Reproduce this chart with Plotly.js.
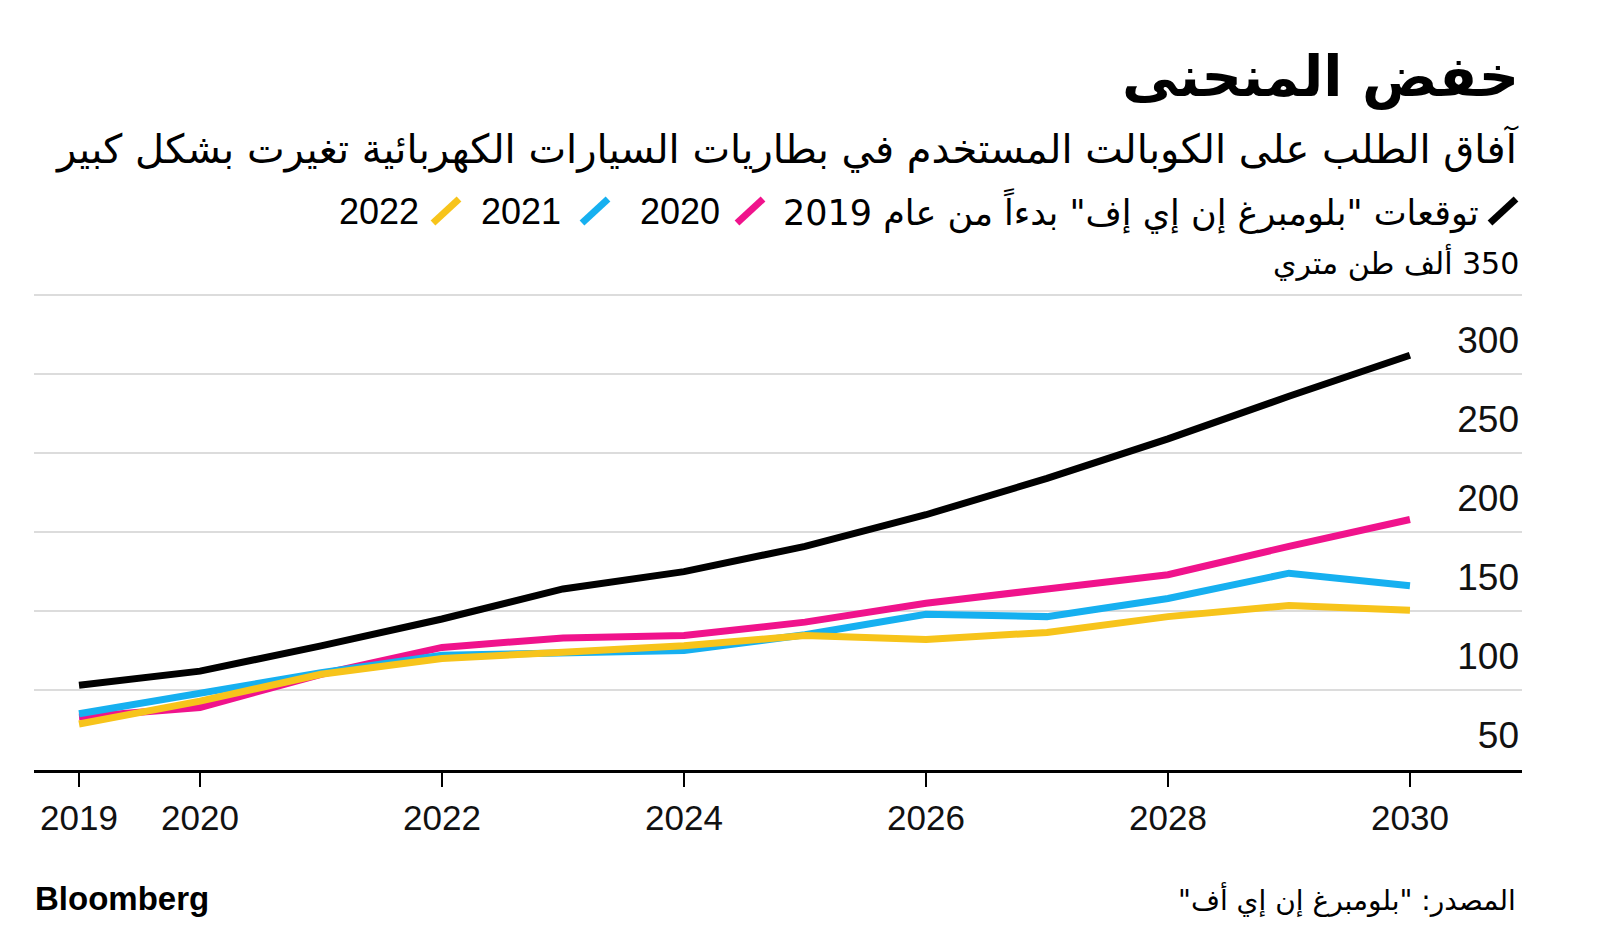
<!DOCTYPE html>
<html>
<head>
<meta charset="utf-8">
<script src="https://cdn.plot.ly/plotly-3.0.1.min.js"></script>
<style>
  html, body { margin: 0; padding: 0; background: #ffffff; }
  #chart { width: 1600px; height: 934px; }
</style>
</head>
<body>
<div id="chart"></div>
<script>
// ---- data ----
const years = [2019, 2020, 2021, 2022, 2023, 2024, 2025, 2026, 2027, 2028, 2029, 2030];
const forecast2019 = [103, 112, 128, 145, 164, 175, 191, 211, 234, 259, 286, 312];
const forecast2020 = [83, 89, 110, 127, 133, 134.5, 143, 155, 164, 173, 191, 208];
const forecast2021 = [85, 98, 111, 122, 123, 125, 135, 148, 146.5, 158, 174, 166];
const forecast2022 = [78.5, 93, 110, 120, 124, 128, 134.5, 132, 136.5, 146.5, 153.5, 150.5];

const seriesNames = ['توقعات "بلومبرغ إن إي إف" بدءاً من عام 2019', '2020', '2021', '2022'];
const seriesColors = ['#000000', '#f0138c', '#16b0f0', '#f7c41b'];

const xTickVals = [2019, 2020, 2022, 2024, 2026, 2028, 2030];
const yTickVals = [50, 100, 150, 200, 250, 300, 350];
const yTickText = ['50', '100', '150', '200', '250', '300', ''];

const titleText = 'خفض المنحنى';
const subtitleText = 'آفاق الطلب على الكوبالت المستخدم في بطاريات السيارات الكهربائية تغيرت بشكل كبير';
const unitText = '\u200F350 ألف طن متري';
const sourceText = 'المصدر: "بلومبرغ إن إي أف"\u200F';
const brandText = 'Bloomberg';

// ---- layout helpers (pixel -> paper) ----
const W = 1600, H = 934;
const M = { l: 34, r: 78, t: 292, b: 164 };
const PW = W - M.l - M.r, PH = H - M.t - M.b;
const px = x => (x - M.l) / PW;
const py = y => (H - M.b - y) / PH;

const FONT = 'Liberation Sans, Arial, DejaVu Sans, sans-serif';
const AFONT = 'DejaVu Sans, Liberation Sans, sans-serif';

const allSeries = [forecast2019, forecast2020, forecast2021, forecast2022];
const order = [1, 2, 3, 0]; // draw pink, blue, yellow, then black
const traces = order.map(i => ({
  x: years,
  y: allSeries[i],
  type: 'scatter',
  mode: 'lines',
  name: seriesNames[i],
  line: { color: seriesColors[i], width: 7 },
  cliponaxis: false,
  hoverinfo: 'skip'
}));

// legend built by hand (RTL: swatch to the right of text)
const legendItems = [
  { i: 0, slashX: 1503, textRight: 1481 },
  { i: 1, slashX: 750,  textRight: 722 },
  { i: 2, slashX: 595,  textRight: 563 },
  { i: 3, slashX: 446,  textRight: 421 }
];
const legendY = 211;

const shapes = legendItems.map(it => ({
  type: 'line', xref: 'paper', yref: 'paper',
  x0: px(it.slashX - 13), y0: py(legendY + 12),
  x1: px(it.slashX + 13), y1: py(legendY - 12),
  line: { color: seriesColors[it.i], width: 7 }
}));

const annotations = [
  { text: '<b>' + titleText + '</b>', x: px(1521), y: py(77), xanchor: 'right', yanchor: 'middle',
    font: { family: AFONT, size: 56, color: '#000' } },
  { text: subtitleText, x: px(1521), y: py(149), xanchor: 'right', yanchor: 'middle',
    font: { family: AFONT, size: 40, color: '#000' } },
  { text: unitText, x: px(1521), y: py(262), xanchor: 'right', yanchor: 'middle',
    font: { family: AFONT, size: 30, color: '#000' } },
  { text: sourceText, x: px(1518), y: py(899), xanchor: 'right', yanchor: 'middle',
    font: { family: AFONT, size: 28, color: '#000' } },
  { text: '<b>' + brandText + '</b>', x: px(33), y: py(898), xanchor: 'left', yanchor: 'middle',
    font: { family: FONT, size: 33, color: '#000' } }
].concat(legendItems.map(it => ({
  text: seriesNames[it.i],
  x: px(it.textRight), y: py(legendY), xanchor: 'right', yanchor: 'middle',
  font: { family: it.i === 0 ? AFONT : FONT, size: it.i === 0 ? 35 : 36, color: '#000' }
}))).map(a => Object.assign({ xref: 'paper', yref: 'paper', showarrow: false }, a));

const layout = {
  width: W, height: H,
  margin: M,
  paper_bgcolor: '#ffffff', plot_bgcolor: '#ffffff',
  showlegend: false,
  hovermode: false,
  xaxis: {
    range: [2018.628, 2030.926],
    tickvals: xTickVals,
    ticktext: xTickVals.map(String),
    ticks: 'outside', ticklen: 14, tickwidth: 1.5, tickcolor: '#000',
    showline: true, linecolor: '#000', linewidth: 3,
    showgrid: false, zeroline: false,
    tickfont: { family: FONT, size: 35, color: '#111' },
    ticklabelstandoff: 1,
    fixedrange: true
  },
  yaxis: {
    range: [49.4, 352],
    side: 'right',
    tickvals: yTickVals,
    ticktext: yTickText,
    ticklabelposition: 'inside top',
    ticklabelshift: -8,
    ticks: '',
    showline: false, zeroline: false,
    showgrid: true, gridcolor: '#dcdcdc', gridwidth: 2.5,
    tickfont: { family: FONT, size: 37, color: '#111' },
    fixedrange: true
  },
  shapes: shapes,
  annotations: annotations
};

Plotly.newPlot('chart', traces, layout, { staticPlot: true, displayModeBar: false });
</script>
</body>
</html>
